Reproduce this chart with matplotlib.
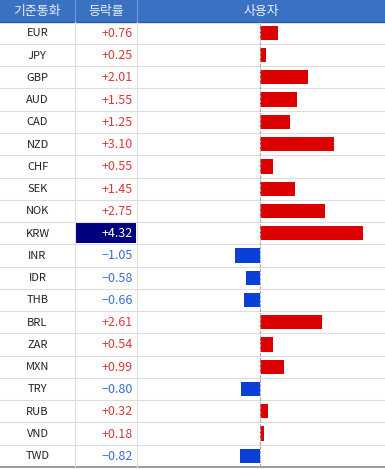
#기준통화별 등락률 표 + 가로 막대
import matplotlib.pyplot as plt
import numpy as np

plt.rcParams['font.family'] = ['Noto Sans CJK KR', 'DejaVu Sans']

currencies = ['EUR', 'JPY', 'GBP', 'AUD', 'CAD', 'NZD', 'CHF', 'SEK', 'NOK', 'KRW',
              'INR', 'IDR', 'THB', 'BRL', 'ZAR', 'MXN', 'TRY', 'RUB', 'VND', 'TWD']
changes = [0.76, 0.25, 2.01, 1.55, 1.25, 3.10, 0.55, 1.45, 2.75, 4.32,
           -1.05, -0.58, -0.66, 2.61, 0.54, 0.99, -0.80, 0.32, 0.18, -0.82]
headers = ['기준통화', '등락률', '사용자']
highlight = 'KRW'

W, H = 385, 469
head_h = 21.7
row_h = 22.26
col_x = [0, 75, 137, W]

fig = plt.figure(figsize=(W / 100, H / 100), dpi=100)
ax = fig.add_axes([0, 0, 1, 1])
ax.set_xlim(0, W)
ax.set_ylim(H, 0)
ax.axis('off')

#헤더
ax.add_patch(plt.Rectangle((0, 0), W, head_h, color='#3a71c2', lw=0))
for i, h in enumerate(headers):
    ax.text((col_x[i] + col_x[i + 1]) / 2, head_h / 2 + 0.5, h, color='#e8effa',
            ha='center', va='center', fontsize=9.3)
ax.plot([0, W], [head_h, head_h], color='#2c5a9e', lw=1)
for cx in col_x[1:3]:
    ax.plot([cx, cx], [0, head_h], color='#6f97d3', lw=0.8)

n = len(currencies)
for i, (c, v) in enumerate(zip(currencies, changes)):
    y0 = head_h + i * row_h
    yc = y0 + row_h / 2
    ax.plot([0, W], [y0 + row_h, y0 + row_h],
            color='#888888' if i == n - 1 else '#dddddd', lw=1.2 if i == n - 1 else 0.8)
    ax.text(col_x[1] / 2, yc + 0.5, c, ha='center', va='center', fontsize=8, color='#222222')
    txt = '%+.2f' % v
    if c == highlight:
        ax.add_patch(plt.Rectangle((col_x[1] + 0.5, y0 + 0.8), col_x[2] - col_x[1] - 1.5,
                                   row_h - 1.6, color='#00007e', lw=0))
        tc = 'white'
    else:
        tc = '#d83a3a' if v > 0 else '#3a6bd3'
    ax.text(col_x[2] - 4, yc + 0.5, txt.replace('-', '\u2212'), ha='right', va='center',
            fontsize=9, color=tc)

y_end = head_h + n * row_h
for cx in col_x[1:3]:
    ax.plot([cx, cx], [head_h, y_end], color='#dddddd', lw=0.8)

#막대 영역
bx = fig.add_axes([col_x[2] / W, 1 - y_end / H, (W - col_x[2]) / W, (y_end - head_h) / H])
bx.set_xlim(-123 / 23.8, 125 / 23.8)
bx.set_ylim(n - 0.5, -0.5)
bx.axis('off')
bx.patch.set_alpha(0)
ypos = np.arange(n)
cols = ['#dd0000' if v > 0 else '#0a40d8' for v in changes]
bx.barh(ypos, changes, height=0.64, color=cols, edgecolor='none')
bx.axvline(0, color='#aaaaaa', lw=0.8, ls=(0, (3, 1)))

plt.savefig('out.png', dpi=100)
